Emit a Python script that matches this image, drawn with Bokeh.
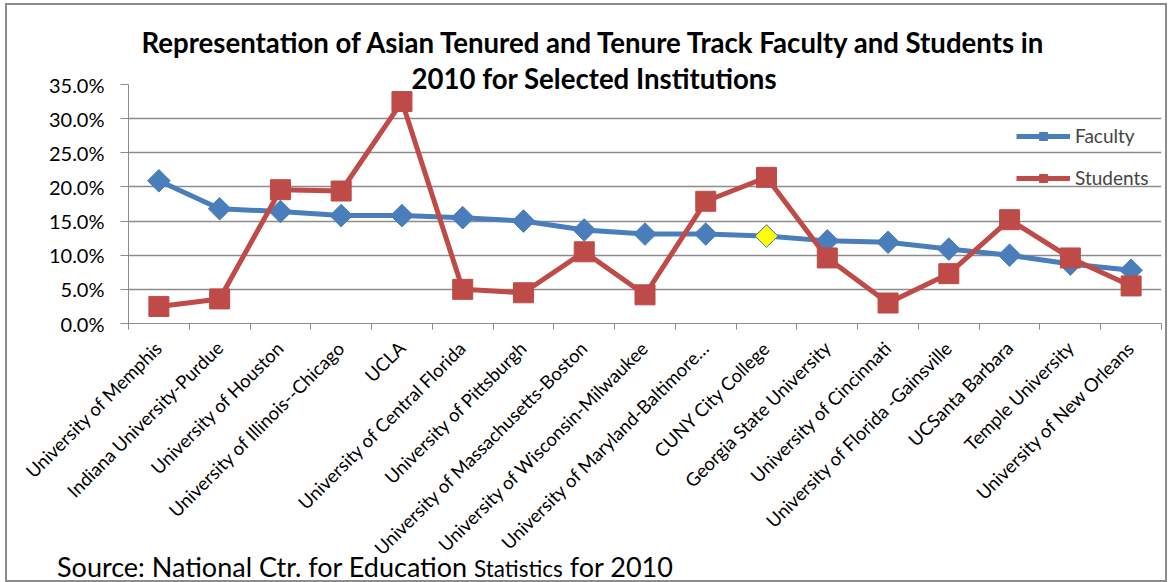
import numpy as np
from bokeh.plotting import figure
from bokeh.layouts import column
from bokeh.models import (ColumnDataSource, FixedTicker, NumeralTickFormatter, Range1d,
                          Legend, LegendItem, Title, Div)
from bokeh.embed import file_html
from bokeh.resources import INLINE

institutions = [
    "University of Memphis", "Indiana University-Purdue", "University of Houston",
    "University of Illinois--Chicago", "UCLA", "University of Central Florida",
    "University of Pittsburgh", "University of Massachusetts-Boston",
    "University of Wisconsin-Milwaukee", "University of Maryland-Baltimore…",
    "CUNY City College", "Georgia State University", "University of Cincinnati",
    "University of Florida -Gainsville", "UCSanta Barbara", "Temple University",
    "University of New Orleans",
]
faculty = [0.209, 0.168, 0.164, 0.158, 0.158, 0.155, 0.150, 0.137, 0.131,
           0.131, 0.128, 0.121, 0.119, 0.109, 0.100, 0.087, 0.078]
students = [0.025, 0.036, 0.196, 0.194, 0.325, 0.050, 0.045, 0.105, 0.042,
            0.179, 0.214, 0.096, 0.030, 0.073, 0.152, 0.096, 0.055]
highlight = "CUNY City College"
y_ticks = [0.0, 0.05, 0.10, 0.15, 0.20, 0.25, 0.30, 0.35]
title_line1 = "Representation of Asian Tenured and Tenure Track Faculty and Students in"
title_line2 = "2010 for Selected Institutions"

BLUE = "#4A7EBB"
RED = "#BE4B48"
GRID = "#8C8C8C"
FONT = "Lato"

n = len(institutions)
xs = np.arange(n) + 0.5
src = ColumnDataSource(dict(x=xs, fac=faculty, stu=students, name=institutions))
hi = institutions.index(highlight)
hsrc = ColumnDataSource(dict(x=[xs[hi]], fac=[faculty[hi]]))

p = figure(width=1158, height=575, output_backend="svg", toolbar_location=None,
           x_range=Range1d(0, n), y_range=Range1d(0, 0.35),
           min_border_left=121, min_border_right=4, min_border_top=79,
           min_border_bottom=257)
p.margin = (5, 0, 0, 7)
p.styles = {"outline": "2px solid #8C8C8C"}
p.outline_line_color = None
p.background_fill_color = "white"
p.border_fill_color = "white"

# titles: the added Title sits nearest the frame
p.title.text = title_line1
p.title.align = "left"
p.title.offset = 13
p.title.standoff = 22
p.title.text_font = FONT
p.title.text_font_size = "27.6px"
p.title.text_font_style = "bold"
p.title.text_color = "black"
p.add_layout(Title(text=title_line2, align="left", offset=283, standoff=-20,
                   text_font=FONT, text_font_size="27.6px", text_font_style="bold",
                   text_color="black"), "above")

# axes
p.xaxis.ticker = FixedTicker(ticks=list(xs), minor_ticks=list(range(n + 1)))
p.xaxis.major_label_overrides = {float(x): name for x, name in zip(xs, institutions)}
p.xaxis.major_label_orientation = np.pi / 4
p.xaxis.major_tick_line_color = None
p.xaxis.minor_tick_in = 0
p.xaxis.minor_tick_out = 6
p.xaxis.minor_tick_line_color = GRID
p.xaxis.axis_line_color = GRID
p.xaxis.major_label_text_font = FONT
p.xaxis.major_label_text_font_size = "18.5px"
p.xaxis.major_label_text_color = "black"
p.xaxis.major_label_standoff = 15

p.yaxis.ticker = FixedTicker(ticks=y_ticks)
p.yaxis.formatter = NumeralTickFormatter(format="0.0%")
p.yaxis.major_tick_in = 0
p.yaxis.major_tick_out = 8
p.yaxis.minor_tick_line_color = None
p.yaxis.major_tick_line_color = GRID
p.yaxis.axis_line_color = GRID
p.yaxis.major_label_text_font = FONT
p.yaxis.major_label_text_font_size = "20px"
p.yaxis.major_label_text_color = "black"
p.yaxis.major_label_standoff = 16

p.xgrid.grid_line_color = None
p.ygrid.ticker = FixedTicker(ticks=y_ticks)
p.ygrid.grid_line_color = GRID
p.ygrid.grid_line_width = 1.5

# series
fl = p.line("x", "fac", source=src, line_color=BLUE, line_width=5)
fs = p.scatter("x", "fac", source=src, marker="square", angle=np.pi / 4, size=16,
               fill_color=BLUE, line_color=BLUE)
p.scatter("x", "fac", source=hsrc, marker="square", angle=np.pi / 4, size=16,
          fill_color="#FFFF00", line_color=BLUE, line_width=1)
sl = p.line("x", "stu", source=src, line_color=RED, line_width=5)
ss = p.scatter("x", "stu", source=src, marker="square", size=20,
               fill_color=RED, line_color=RED)

legend = Legend(items=[LegendItem(label="Faculty", renderers=[fl, fs]),
                       LegendItem(label="Students", renderers=[sl, ss])],
                location=(888, 134), padding=0, margin=0, spacing=19,
                glyph_width=54, glyph_height=20, label_height=20,
                label_standoff=5, border_line_color=None,
                background_fill_alpha=0, label_text_font=FONT,
                label_text_font_size="19px")
p.add_layout(legend)

source = Div(
    text=('<span style="font-family:Lato;font-size:27px;line-height:27px;'
          'color:black;white-space:nowrap">Source: National Ctr. for Education '
          '<span style="font-size:22.5px">Statistics</span> for 2010</span>'),
    width=760, height=27, margin=(-27, 0, 0, 57))

layout = column(p, source)
open("out.html", "w").write(file_html(layout, INLINE))
